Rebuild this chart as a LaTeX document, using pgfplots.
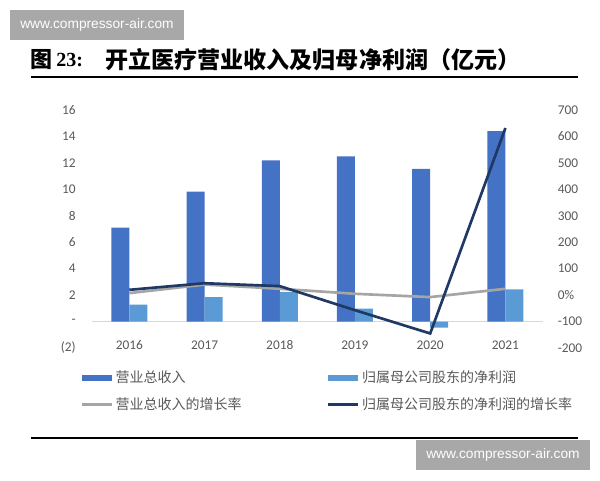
\documentclass[border=0pt]{standalone}
\usepackage{pgfplots}
\pgfplotsset{compat=1.18}
\usepackage{fontspec}
\setmainfont{Liberation Sans}
\newfontfamily\cjk{Noto Sans CJK SC}
\newfontfamily\carlito{Carlito}
\newfontfamily\tnr{Liberation Serif}
\definecolor{barA}{HTML}{4472C4}
\definecolor{barB}{HTML}{5B9BD5}
\definecolor{lineG}{HTML}{A5A5A5}
\definecolor{lineN}{HTML}{1F3864}
\definecolor{axisG}{HTML}{D9D9D9}
\definecolor{txtG}{HTML}{595959}
\definecolor{wm}{HTML}{A8A8A8}
\begin{document}
\begin{tikzpicture}[x=0.75pt,y=0.75pt]
\useasboundingbox (0,0) rectangle (600,480);
% watermarks
\fill[wm] (10,440) rectangle (184,470);
\node[white, inner sep=0, anchor=west, font=\fontsize{10.3}{12}\selectfont] at (20,455) {www.compressor-air.com};
\fill[wm] (416,10) rectangle (590,40);
\node[white, inner sep=0, anchor=west, font=\fontsize{10.3}{12}\selectfont] at (426,25) {www.compressor-air.com};
% title
\node[anchor=west, inner sep=0, font=\cjk\bfseries\fontsize{16.5}{18}\selectfont] at (30,420) {图};
\node[anchor=west, inner sep=0, font=\tnr\bfseries\fontsize{15}{18}\selectfont] at (56,420) {23:};
\node[anchor=west, inner sep=0, font=\cjk\bfseries\fontsize{17.3}{19}\selectfont] at (105,420) {开立医疗营业收入及归母净利润（亿元）};
\draw[line width=1.5pt] (31,403) -- (578,403);
\draw[line width=1.5pt] (31,42) -- (578,42);

\begin{axis}[
  at={(68.775pt,99pt)}, anchor=south west, scale only axis,
  width=338.5pt, height=178.5pt,
  xmin=-0.5, xmax=5.5, ymin=-2, ymax=16,
  axis line style={draw=none}, tick style={draw=none},
  xtick={0,1,2,3,4,5}, xticklabels={2016,2017,2018,2019,2020,2021},
  ytick={-2,0,2,4,6,8,10,12,14,16}, yticklabels={(2),-,2,4,6,8,10,12,14,16},
  ticklabel style={font=\carlito\fontsize{10}{12}\selectfont, text=txtG},
  xticklabel style={anchor=base, yshift=3.4pt},
  yticklabel style={xshift=-8.5pt},
  extra y ticks={0}, extra y tick labels={},
  extra y tick style={grid=major, major grid style={axisG, line width=0.9pt}},
  ybar=0pt, bar width=13.5pt,
  legend columns=2,
  legend cell align=left,
  legend style={at={(-0.026,-0.084)}, anchor=north west, draw=none, fill=none,
    inner sep=0pt, font=\cjk\fontsize{10.5}{12}\selectfont, text=txtG, row sep=5.75pt,
    /tikz/every even column/.append style={column sep=62pt}},
]
\addplot[fill=barA, draw=none,
  legend image code/.code={\fill[barA] (0pt,-2.25pt) rectangle (22.5pt,2.25pt);}]
  coordinates {(0,7.1) (1,9.82) (2,12.2) (3,12.5) (4,11.55) (5,14.4)};
\addplot[fill=barB, draw=none,
  legend image code/.code={\fill[barB] (0pt,-2.25pt) rectangle (22.5pt,2.25pt);}]
  coordinates {(0,1.28) (1,1.85) (2,2.25) (3,0.98) (4,-0.45) (5,2.43)};
\addlegendimage{legend image code/.code={\draw[lineG, line width=2pt] (0pt,0pt) -- (22.5pt,0pt);}}
\addlegendimage{legend image code/.code={\draw[lineN, line width=2pt] (0pt,0pt) -- (22.5pt,0pt);}}
\legend{营业总收入,归属母公司股东的净利润,营业总收入的增长率,归属母公司股东的净利润的增长率}
\end{axis}

\begin{scope}
\clip (0,0) rectangle (583,480);
\begin{axis}[
  at={(68.775pt,99pt)}, anchor=south west, scale only axis,
  width=338.5pt, height=178.5pt,
  xmin=-0.5, xmax=5.5, ymin=-200, ymax=700,
  axis line style={draw=none}, tick style={draw=none},
  xtick=\empty,
  yticklabel pos=right,
  ytick={-200,-100,0,100,200,300,400,500,600,700},
  yticklabels={-200,-100,0\%,100,200,300,400,500,600,700},
  ticklabel style={font=\carlito\fontsize{10}{12}\selectfont, text=txtG},
  yticklabel style={xshift=7.6pt},
]
\addplot[lineG, line width=2pt] coordinates {(0,7.5) (1,40) (2,24) (3,5) (4,-7.5) (5,24)};
\addplot[lineN, line width=2pt] coordinates {(0,20) (1,45) (2,34) (3,-57) (4,-145) (5,632)};
\end{axis}
\end{scope}
\end{tikzpicture}
\end{document}
